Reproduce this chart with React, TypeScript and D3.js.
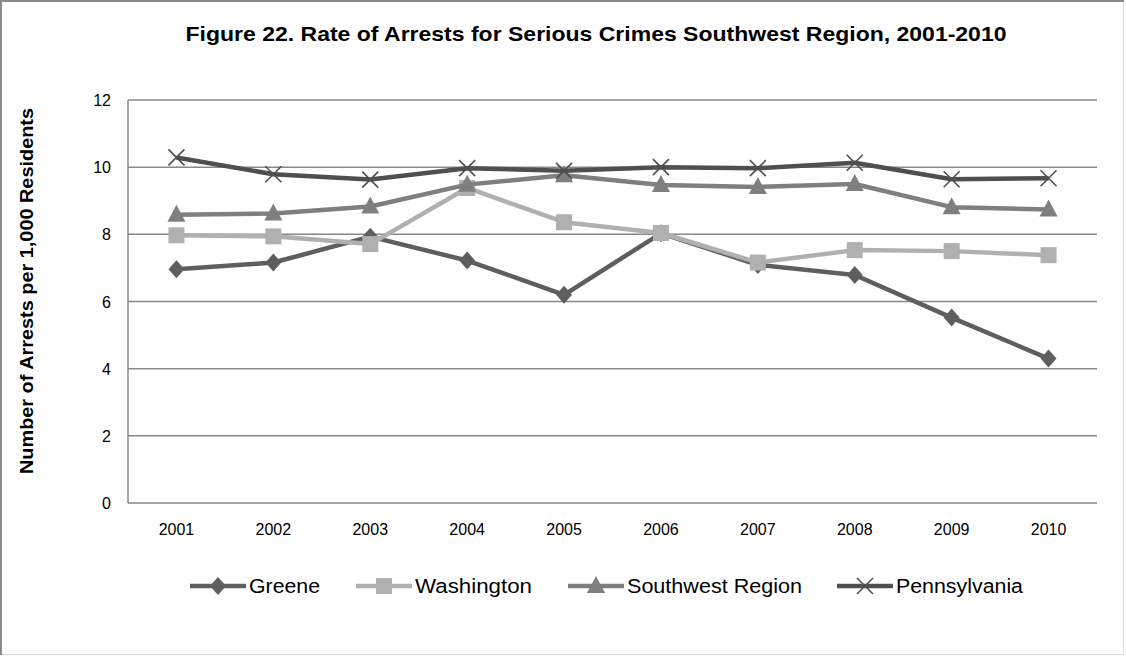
import React, { useEffect, useRef } from "react";
import * as d3 from "d3";

const years = ["2001", "2002", "2003", "2004", "2005", "2006", "2007", "2008", "2009", "2010"];
const greene = [6.96, 7.16, 7.93, 7.22, 6.2, 8.03, 7.09, 6.79, 5.52, 4.3];
const washington = [7.97, 7.94, 7.71, 9.38, 8.36, 8.04, 7.16, 7.53, 7.5, 7.38];
const southwest = [8.58, 8.62, 8.83, 9.48, 9.76, 9.47, 9.41, 9.5, 8.81, 8.74];
const pennsylvania = [10.29, 9.79, 9.63, 9.97, 9.89, 10.0, 9.97, 10.13, 9.64, 9.67];
const yTicks = [0, 2, 4, 6, 8, 10, 12];

const seriesNames = ["Greene", "Washington", "Southwest Region", "Pennsylvania"];
const seriesColors = ["#5e5e5e", "#b0b0b0", "#7f7f7f", "#4f4f4f"];
const seriesMarkers = ["diamond", "square", "triangle", "x"];
const legendX = [218, 384, 596, 865];
const legendTextW = [71, 117, 175, 127];

const W = 1126;
const H = 656;
const FONT = "'Liberation Sans', Arial, sans-serif";

export default function App() {
  const ref = useRef<SVGSVGElement>(null);
  useEffect(() => {
    const svg = d3.select(ref.current);
    svg.selectAll("*").remove();

    const left = 128, right = 1097, top = 100, bottom = 503;
    const x = d3.scaleBand<string>().domain(years).range([left, right]);
    const y = d3.scaleLinear().domain([0, 12]).range([bottom, top]);

    svg.append("rect").attr("x", 0).attr("y", 0).attr("width", W).attr("height", H).attr("fill", "#fff");
    svg.append("rect").attr("x", 0.5).attr("y", 0.5).attr("width", W - 3).attr("height", H - 2)
      .attr("fill", "none").attr("stroke", "#d9d9d9");
    svg.append("line").attr("x1", 1).attr("x2", 1).attr("y1", 0).attr("y2", H - 1).attr("stroke", "#8a8a8a").attr("stroke-width", 2);
    svg.append("line").attr("x1", 0).attr("x2", W - 2).attr("y1", 1).attr("y2", 1).attr("stroke", "#8a8a8a").attr("stroke-width", 2);

    // title
    svg.append("text").attr("x", 596).attr("y", 41).attr("text-anchor", "middle")
      .attr("font-family", FONT).attr("font-weight", "bold").attr("font-size", 21).attr("fill", "#000")
      .attr("textLength", 821).attr("lengthAdjust", "spacingAndGlyphs")
      .text("Figure 22. Rate of Arrests for Serious Crimes Southwest Region, 2001-2010");

    // gridlines
    svg.append("g").selectAll("line").data(yTicks).join("line")
      .attr("x1", left).attr("x2", right)
      .attr("y1", (d) => y(d)).attr("y2", (d) => y(d))
      .attr("stroke", "#878787").attr("stroke-width", 1.5);
    svg.append("line").attr("x1", left).attr("x2", left).attr("y1", top).attr("y2", bottom)
      .attr("stroke", "#878787").attr("stroke-width", 1.5);

    // y tick labels
    svg.append("g").selectAll("text").data(yTicks).join("text")
      .attr("x", 111).attr("y", (d) => y(d) + 6).attr("text-anchor", "end")
      .attr("font-family", FONT).attr("font-size", 16).attr("fill", "#000")
      .text((d) => String(d));

    // x tick labels
    svg.append("g").selectAll("text").data(years).join("text")
      .attr("x", (d) => (x(d) as number) + x.bandwidth() / 2).attr("y", 535).attr("text-anchor", "middle")
      .attr("font-family", FONT).attr("font-size", 16).attr("fill", "#000")
      .text((d) => d);

    // y axis title
    svg.append("text").attr("transform", "translate(33,291) rotate(-90)").attr("text-anchor", "middle")
      .attr("font-family", FONT).attr("font-weight", "bold").attr("font-size", 18).attr("fill", "#000")
      .attr("textLength", 366).attr("lengthAdjust", "spacingAndGlyphs")
      .text("Number of Arrests per 1,000 Residents");

    const data = [greene, washington, southwest, pennsylvania];
    const cx = (i: number) => (x(years[i]) as number) + x.bandwidth() / 2;

    const drawMarker = (g: any, kind: string, px: number, py: number, color: string) => {
      if (kind === "diamond") {
        g.append("path").attr("d", `M${px},${py - 9}L${px + 8},${py}L${px},${py + 9}L${px - 8},${py}Z`).attr("fill", color);
      } else if (kind === "square") {
        g.append("rect").attr("x", px - 8).attr("y", py - 8).attr("width", 16).attr("height", 16).attr("fill", color);
      } else if (kind === "triangle") {
        g.append("path").attr("d", `M${px},${py - 10}L${px + 9},${py + 7}L${px - 9},${py + 7}Z`).attr("fill", color);
      } else {
        g.append("path").attr("d", `M${px - 8},${py - 8}L${px + 8},${py + 8}M${px - 8},${py + 8}L${px + 8},${py - 8}`)
          .attr("stroke", color).attr("stroke-width", 1.6).attr("fill", "none");
      }
    };

    const line = d3.line<number>().x((_, i) => cx(i)).y((d) => y(d));
    data.forEach((vals, s) => {
      const g = svg.append("g");
      g.append("path").attr("d", line(vals)).attr("fill", "none")
        .attr("stroke", seriesColors[s]).attr("stroke-width", 4.5).attr("stroke-linejoin", "round");
      vals.forEach((v, i) => drawMarker(g, seriesMarkers[s], cx(i), y(v), seriesColors[s]));
    });

    // legend
    seriesNames.forEach((name, s) => {
      const g = svg.append("g");
      const mx = legendX[s];
      const ly = 586;
      g.append("line").attr("x1", mx - 28).attr("x2", mx + 28).attr("y1", ly).attr("y2", ly)
        .attr("stroke", seriesColors[s]).attr("stroke-width", 4.5);
      drawMarker(g, seriesMarkers[s], mx, ly, seriesColors[s]);
      g.append("text").attr("x", mx + 31).attr("y", ly + 7)
        .attr("font-family", FONT).attr("font-size", 20).attr("fill", "#000")
        .attr("textLength", legendTextW[s]).attr("lengthAdjust", "spacingAndGlyphs").text(name);
    });
  }, []);

  return (
    <div style={{ position: "fixed", left: 0, top: 0 }}>
      <svg ref={ref} width={W} height={H} style={{ display: "block" }} />
    </div>
  );
}
